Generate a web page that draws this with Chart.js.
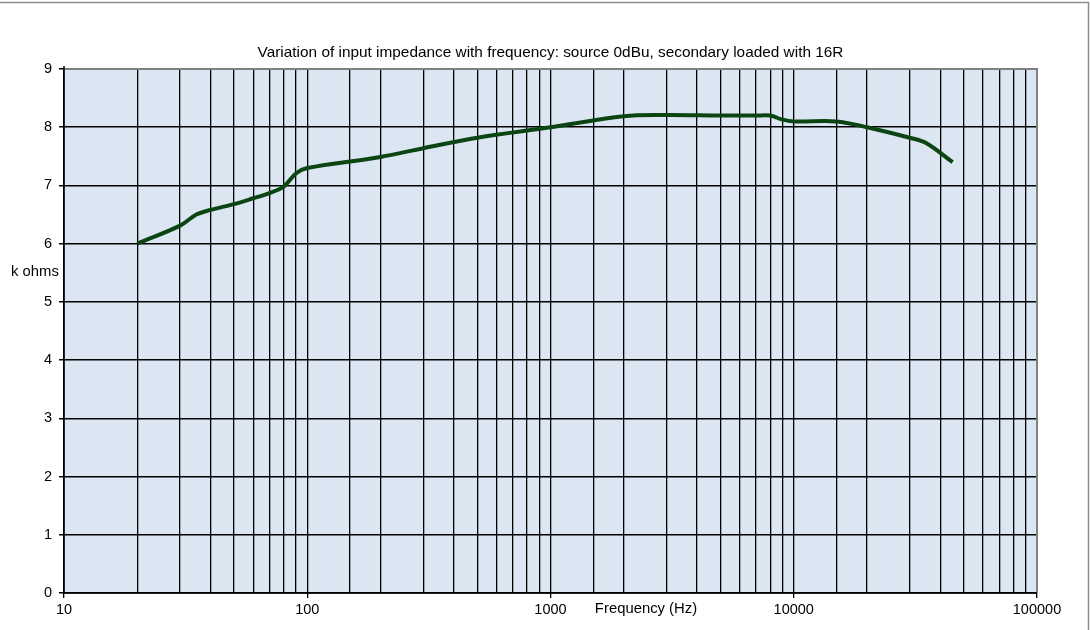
<!DOCTYPE html>
<html><head><meta charset="utf-8">
<script src="https://cdn.jsdelivr.net/npm/chart.js@4/dist/chart.umd.min.js"></script>
<style>html,body{margin:0;padding:0;background:#fff}#wrap{width:1090px;height:630px}</style>
</head><body><div id="wrap"><canvas id="c" width="1090" height="630"></canvas></div>
<script>
const frequencies = [20, 30, 35, 40, 50, 60, 70, 80, 90, 100, 200, 300, 500, 1000, 2000, 3000, 5000, 7000, 8000, 9000, 10000, 15000, 20000, 30000, 35000, 45000];
const impedanceK = [6.0, 6.31, 6.5, 6.58, 6.68, 6.78, 6.87, 6.98, 7.21, 7.3, 7.49, 7.64, 7.82, 8.0, 8.19, 8.21, 8.2, 8.2, 8.2, 8.13, 8.1, 8.1, 8.0, 7.82, 7.73, 7.4];
const xMajorTicks = [10, 100, 1000, 10000, 100000];
const chartTitle = 'Variation of input impedance with frequency: source 0dBu, secondary loaded with 16R';
const xTitle = 'Frequency (Hz)';
const yTitle = 'k ohms';
const FONT = '"Liberation Sans", Arial, sans-serif';

function stretchText(ctx, text, x, y, align, size) {
  ctx.save();
  ctx.font = size + 'px ' + FONT;
  ctx.textBaseline = 'middle';
  ctx.textAlign = align;
  ctx.translate(x, y);
  ctx.scale(1.06, 1);
  ctx.fillText(text, 0, 0);
  ctx.restore();
}

const decor = {
  id: 'decor',
  beforeDraw(chart) {
    const {ctx, chartArea: a} = chart;
    ctx.save();
    ctx.fillStyle = '#dce6f2';
    ctx.fillRect(a.left, a.top, a.right - a.left, a.bottom - a.top);
    ctx.strokeStyle = '#8c8c8c';
    ctx.lineWidth = 1.5;
    ctx.strokeRect(-5, 2.5, 1088.5 + 5, 640);
    ctx.restore();
  },
  beforeDatasetsDraw(chart) {
    const {ctx, chartArea: a} = chart;
    ctx.save();
    ctx.strokeStyle = '#808080';
    ctx.lineWidth = 2;
    ctx.beginPath();
    ctx.moveTo(a.left, a.top);
    ctx.lineTo(a.right, a.top);
    ctx.lineTo(a.right, a.bottom);
    ctx.stroke();
    ctx.strokeStyle = '#000';
    ctx.lineWidth = 1.5;
    ctx.beginPath();
    ctx.moveTo(a.left, a.top - 3);
    ctx.lineTo(a.left, a.bottom);
    ctx.lineTo(a.right, a.bottom);
    ctx.stroke();
    ctx.restore();
  },
  afterDraw(chart) {
    const {ctx, chartArea: a} = chart;
    ctx.fillStyle = '#000';
    stretchText(ctx, chartTitle, (a.left + a.right) / 2, 53, 'center', 14.5);
    stretchText(ctx, xTitle, 646, 609, 'center', 14);
    stretchText(ctx, yTitle, 11, 272, 'left', 14);
  }
};

new Chart(document.getElementById('c'), {
  type: 'line',
  data: {
    datasets: [{
      data: frequencies.map((f, i) => ({x: f, y: impedanceK[i]})),
      borderColor: '#0b4512',
      borderWidth: 4,
      pointRadius: 0,
      fill: false,
      tension: 0.35
    }]
  },
  options: {
    responsive: false,
    animation: false,
    devicePixelRatio: 1,
    layout: {padding: {left: 0, right: 53, top: 69, bottom: 0}},
    plugins: {legend: {display: false}, title: {display: false}, tooltip: {enabled: false}},
    scales: {
      x: {
        type: 'logarithmic',
        min: 10, max: 100000,
        afterFit(s) { s.height = 37; },
        border: {display: false},
        grid: {
          color: '#000',
          lineWidth: 1.3,
          drawTicks: true,
          tickLength: 5,
          tickColor: (c) => xMajorTicks.includes(c.tick && c.tick.value) ? '#000' : 'rgba(0,0,0,0)'
        },
        ticks: {
          autoSkip: false,
          maxRotation: 0,
          padding: 3,
          color: '#000',
          font: {family: FONT, size: 14.5},
          callback: (v) => xMajorTicks.includes(v) ? String(v) : ''
        }
      },
      y: {
        min: 0, max: 9,
        afterFit(s) { s.width = 64; },
        border: {display: false},
        grid: {color: '#000', lineWidth: 1.5, tickLength: 5, tickColor: '#000'},
        ticks: {stepSize: 1, padding: 7, color: '#000', font: {family: FONT, size: 14.5}}
      }
    }
  },
  plugins: [decor]
});
</script></body></html>
